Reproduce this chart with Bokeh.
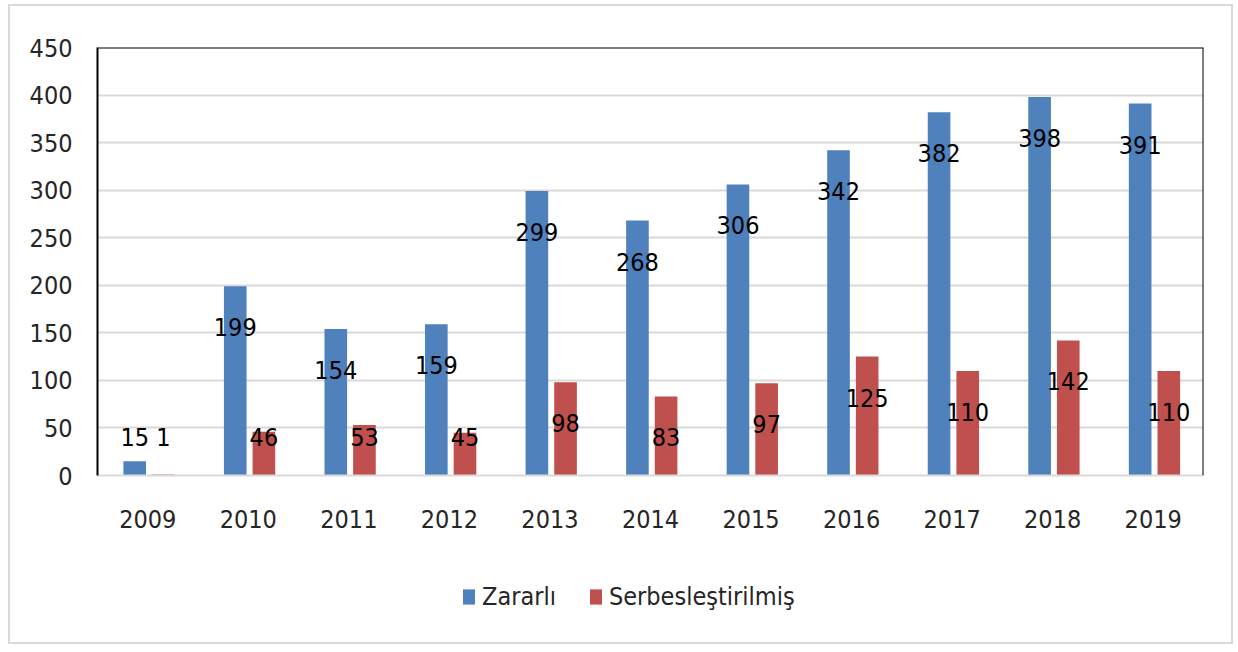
from bokeh.plotting import figure
from bokeh.models import (ColumnDataSource, Legend, LegendItem, FixedTicker, Span, Spacer)
from bokeh.layouts import column, row
from bokeh.transform import dodge
from bokeh.core.properties import value
from bokeh.embed import file_html
from bokeh.resources import INLINE

years = ["2009", "2010", "2011", "2012", "2013", "2014", "2015", "2016", "2017", "2018", "2019"]
zararli = [15, 199, 154, 159, 299, 268, 306, 342, 382, 398, 391]
serbest = [1, 46, 53, 45, 98, 83, 97, 125, 110, 142, 110]
y_ticks = [0, 50, 100, 150, 200, 250, 300, 350, 400, 450]
series_names = ["Zararlı", "Serbesleştirilmiş"]

FONT = "DejaVu Sans Condensed"
FS = "25px"
BLUE = "#4F81BD"
RED = "#C0504D"
BORDER = "2px solid #d9d9d9"

# label placement rule (inside end, clamped near bottom)
def lab_y(v):
    return max(v - 43, 40)

src = ColumnDataSource(dict(
    years=years, zararli=zararli, serbest=serbest,
    zl=[str(v) for v in zararli], sl=[str(v) for v in serbest],
    zy=[lab_y(v) for v in zararli], sy=[lab_y(v) for v in serbest],
))

p = figure(x_range=years, y_range=(0, 450), width=1225, height=554,
           output_backend="svg", toolbar_location=None,
           min_border_left=87, min_border_right=32, min_border_top=41,
           min_border_bottom=85)
p.styles = {"border-top": BORDER, "border-left": BORDER, "border-right": BORDER}
p.outline_line_color = None
p.background_fill_color = "white"
p.border_fill_color = "white"

p.vbar(x=dodge("years", -0.13, range=p.x_range), top="zararli", width=0.225,
       source=src, fill_color=BLUE, line_color=None)
p.vbar(x=dodge("years", 0.155, range=p.x_range), top="serbest", width=0.225,
       source=src, fill_color=RED, line_color=None)

p.text(x=dodge("years", -0.13, range=p.x_range), y="zy", text="zl", source=src,
       text_font=value(FONT), text_font_size=FS, text_align="center",
       text_baseline="middle", text_color="black")
p.text(x=dodge("years", 0.155, range=p.x_range), y="sy", text="sl", source=src,
       text_font=value(FONT), text_font_size=FS, text_align="center",
       text_baseline="middle", text_color="black")

p.xgrid.grid_line_color = None
p.ygrid.grid_line_color = "#d9d9d9"
p.ygrid.grid_line_width = 2
p.ygrid.ticker = FixedTicker(ticks=y_ticks)

yax = p.yaxis[0]
yax.ticker = FixedTicker(ticks=y_ticks)
yax.axis_line_color = "black"
yax.axis_line_width = 2
yax.major_tick_line_color = None
yax.minor_tick_line_color = None
yax.major_label_standoff = 19
yax.major_label_text_font = FONT
yax.major_label_text_font_size = FS
yax.major_label_text_color = "#262626"

xax = p.xaxis[0]
xax.axis_line_color = "#d9d9d9"
xax.axis_line_width = 2
xax.major_tick_line_color = None
xax.minor_tick_line_color = None
xax.major_label_standoff = 28
xax.major_label_text_font = FONT
xax.major_label_text_font_size = FS
xax.major_label_text_color = "#262626"

# black frame lines on top and right
p.add_layout(Span(location=450, dimension="width", line_color="black", line_width=2))
p.add_layout(Span(location=len(years), dimension="height", line_color="black", line_width=2))

# legend in its own strip below the chart
pl = figure(x_range=(0, 1), y_range=(0, 1), width=1225, height=86,
            output_backend="svg", toolbar_location=None,
            x_axis_location=None, y_axis_location=None,
            min_border=0, min_border_left=0, min_border_right=0,
            min_border_top=0, min_border_bottom=0)
pl.styles = {"border-bottom": BORDER, "border-left": BORDER, "border-right": BORDER}
pl.grid.visible = False
pl.outline_line_color = None
pl.background_fill_color = "white"
pl.border_fill_color = "white"
# legend swatch renderers: one point placed outside the visible range
lb = pl.vbar(x=[5], top=[5], bottom=[4], width=0.1, fill_color=BLUE, line_color=None)
lr = pl.vbar(x=[5], top=[5], bottom=[4], width=0.1, fill_color=RED, line_color=None)
legend = Legend(items=[LegendItem(label=series_names[0], renderers=[lb]),
                       LegendItem(label=series_names[1], renderers=[lr])],
                orientation="horizontal", location=(364, 33),
                glyph_width=15, glyph_height=19, label_standoff=6, spacing=32,
                padding=0, margin=0, border_line_color=None,
                background_fill_alpha=0,
                label_text_font=FONT, label_text_font_size=FS,
                label_text_color="#262626")
pl.add_layout(legend, "center")

layout = row(Spacer(width=8), column(Spacer(height=4), p, pl, spacing=0), spacing=0)

open("out.html", "w").write(file_html(layout, INLINE))
